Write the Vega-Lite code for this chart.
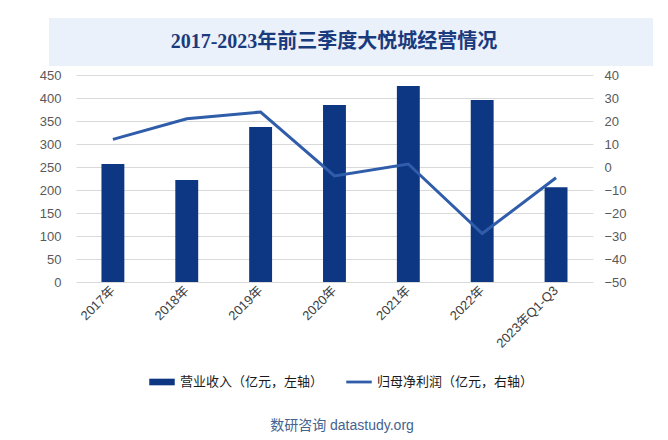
{
  "$schema": "https://vega.github.io/schema/vega-lite/v6.json",
  "background": "white",
  "padding": {"left": 30, "right": 30, "top": 18, "bottom": 6},
  "datasets": {
    "d": [
      {"year": "2017年", "revenue": 256.5, "profit": 12.0},
      {"year": "2018年", "revenue": 221.7, "profit": 21.0},
      {"year": "2019年", "revenue": 337.0, "profit": 23.9},
      {"year": "2020年", "revenue": 384.8, "profit": -3.9},
      {"year": "2021年", "revenue": 426.0, "profit": 1.3},
      {"year": "2022年", "revenue": 395.7, "profit": -28.9},
      {"year": "2023年Q1-Q3", "revenue": 205.9, "profit": -4.7}
    ]
  },
  "title": {
    "text": "数研咨询 datastudy.org",
    "orient": "bottom",
    "anchor": "middle",
    "fontSize": 14,
    "fontWeight": "normal",
    "color": "#44638F",
    "font": "Liberation Sans, Noto Sans CJK SC",
    "offset": 30
  },
  "center": true,
  "spacing": 3,
  "vconcat": [
    {
      "width": 604,
      "height": 48,
      "view": {"fill": "#EAF1FB", "stroke": null},
      "data": {"values": [{"t": "2017-2023年前三季度大悦城经营情况"}]},
      "mark": {"type": "text", "font": "Liberation Serif, Noto Sans CJK SC", "fontSize": 20, "fontWeight": "bold", "color": "#1A3A7E", "dx": -17},
      "encoding": {"text": {"field": "t", "type": "nominal"}}
    },
    {
      "width": 517,
      "height": 207,
      "data": {"name": "d"},
      "encoding": {
        "x": {
          "field": "year",
          "type": "nominal",
          "sort": null,
          "title": null,
          "scale": {"paddingInner": 0, "paddingOuter": 0},
          "axis": {
            "labelAngle": -45,
            "labelAlign": "right",
            "labelBaseline": "middle",
            "labelPadding": 6,
            "ticks": false,
            "domain": false,
            "grid": false,
            "labelFontSize": 13,
            "labelColor": "#404040",
            "labelFont": "Liberation Sans, Noto Sans CJK SC"
          }
        }
      },
      "layer": [
        {
          "mark": {"type": "bar", "width": {"band": 0.31}},
          "encoding": {
            "y": {
              "field": "revenue",
              "type": "quantitative",
              "title": null,
              "scale": {"domain": [0, 450], "nice": false},
              "axis": {
                "values": [0, 50, 100, 150, 200, 250, 300, 350, 400, 450],
                "ticks": false,
                "domain": false,
                "grid": true,
                "gridColor": "#D9D9D9",
                "labelPadding": 15,
                "minExtent": 45,
                "labelFontSize": 13,
                "labelColor": "#595959",
                "labelFont": "Liberation Sans"
              }
            },
            "color": {
              "datum": "营业收入（亿元，左轴）",
              "type": "nominal",
              "scale": {"domain": ["营业收入（亿元，左轴）", "归母净利润（亿元，右轴）"], "range": ["#0E3783", "#2F5DAA"]},
              "legend": {
                "orient": "bottom",
                "direction": "horizontal",
                "title": null,
                "labelFontSize": 13,
                "labelColor": "#1a1a1a",
                "labelFont": "Noto Sans CJK SC",
                "columnPadding": 22,
                "symbolSize": 650,
                "labelOffset": 5,
                "offset": 18,
                "symbolStrokeWidth": 0,
                "encode": {
                  "symbols": {
                    "update": {
                      "shape": [
                        {"test": "datum.index === 0", "value": "M-1,-0.26H1V0.26H-1Z"},
                        {"value": "M-1,-0.11H1V0.11H-1Z"}
                      ],
                      "strokeWidth": {"value": 0}
                    }
                  }
                }
              }
            }
          }
        },
        {
          "mark": {"type": "line", "strokeWidth": 3},
          "encoding": {
            "y": {
              "field": "profit",
              "type": "quantitative",
              "title": null,
              "scale": {"domain": [-50, 40], "nice": false},
              "axis": {
                "orient": "right",
                "values": [-50, -40, -30, -20, -10, 0, 10, 20, 30, 40],
                "ticks": false,
                "domain": false,
                "grid": false,
                "labelPadding": 11,
                "labelFontSize": 13,
                "labelColor": "#595959",
                "labelFont": "Liberation Sans"
              }
            },
            "color": {"datum": "归母净利润（亿元，右轴）", "type": "nominal"}
          }
        }
      ],
      "resolve": {"scale": {"y": "independent"}}
    }
  ],
  "config": {
    "view": {"stroke": null},
    "legend": {"layout": {"bottom": {"anchor": "middle"}}}
  }
}
